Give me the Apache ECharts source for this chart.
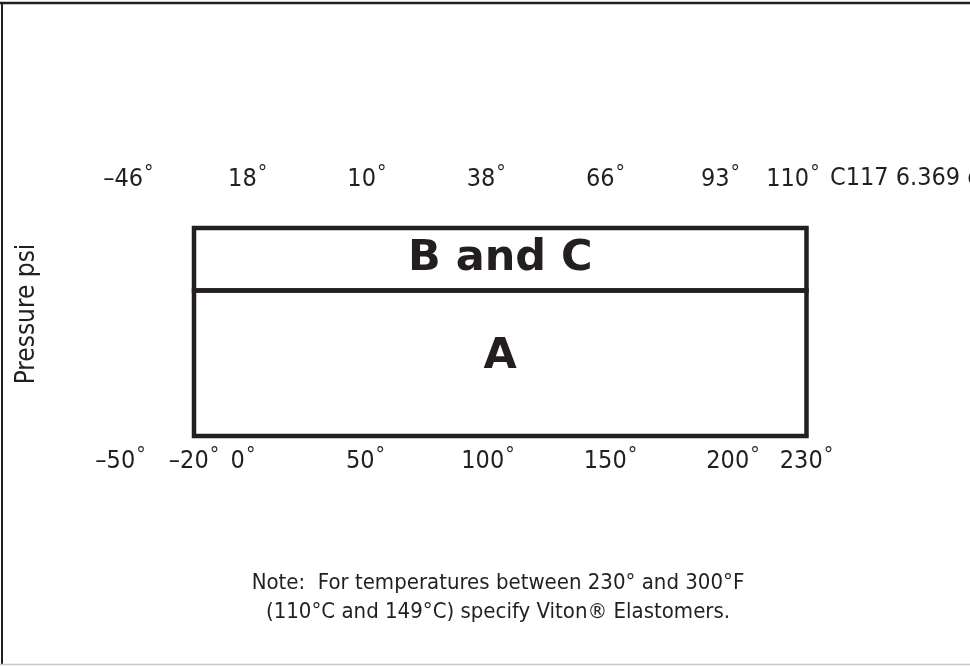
<!DOCTYPE html>
<html>
<head>
<meta charset="utf-8">
<script src="https://cdn.jsdelivr.net/npm/echarts@6/dist/echarts.min.js"></script>
<style>html,body{margin:0;padding:0;background:#fff;}#chart{width:970px;height:667px;}</style>
</head>
<body>
<div id="chart"></div>
<script>
// Fahrenheit tick values (bottom axis)
const fahrenheitTicks = [-50, -20, 0, 50, 100, 150, 200, 230];
// Celsius tick values and their printed labels (top axis)
const celsiusTicks = [-46, -18, 10, 38, 66, 93, 110];
const celsiusLabels = ['–46', '18', '10', '38', '66', '93', '110'];
// Service zones: temperature range (°F) and relative pressure band
const zoneNames = ['A', 'B and C'];
const zoneTempMin = [-20, -20];
const zoneTempMax = [230, 230];
const zonePressLow = [0, 70];
const zonePressHigh = [70, 100];

const INK = '#231f20';
const FONT = '"Liberation Sans Narrow", "DejaVu Sans Condensed", sans-serif';

const chart = echarts.init(document.getElementById('chart'), null, {renderer: 'canvas'});

const zoneData = zoneNames.map((n, i) => [zoneTempMin[i], zoneTempMax[i], zonePressLow[i], zonePressHigh[i], n]);

const richDeg = {
  n: {fontFamily: FONT, fontSize: 25, color: INK, lineHeight: 28, verticalAlign: 'bottom'},
  d: {fontFamily: FONT, fontSize: 21, color: INK, lineHeight: 28, verticalAlign: 'top', padding: [0, 0, 0, 1]}
};
const fmtF = v => '{n|' + (v < 0 ? '–' + (-v) : String(v)) + '}{d|°}';
const fmtC = v => '{n|' + (celsiusLabels[celsiusTicks.indexOf(v)] || '') + '}{d|°}';

chart.setOption({
  animation: false,
  backgroundColor: '#fff',
  grid: {left: 120.5, right: 16.5, top: 228, bottom: 231, containLabel: false},
  xAxis: [
    {
      type: 'value', position: 'bottom', min: -50, max: 290,
      axisLine: {show: false}, axisTick: {show: false}, splitLine: {show: false},
      axisLabel: {customValues: fahrenheitTicks, formatter: fmtF, rich: richDeg, margin: 10}
    },
    {
      type: 'value', position: 'top', min: -47.84, max: 147.7,
      axisLine: {show: false}, axisTick: {show: false}, splitLine: {show: false},
      axisLabel: {customValues: celsiusTicks, formatter: fmtC, rich: richDeg, margin: 36}
    }
  ],
  yAxis: {
    type: 'value', min: 0, max: 100,
    axisLine: {show: false}, axisTick: {show: false}, splitLine: {show: false},
    axisLabel: {show: false},
    name: 'Pressure psi', nameLocation: 'middle', nameRotate: 90, nameGap: 80,
    nameTextStyle: {fontFamily: FONT, fontSize: 26, color: INK, padding: [0, 0, 0, 36]}
  },
  series: [{
    type: 'custom',
    xAxisIndex: 0,
    data: zoneData,
    renderItem: function (params, api) {
      const p1 = api.coord([api.value(0), api.value(3)]);
      const p2 = api.coord([api.value(1), api.value(2)]);
      const name = zoneNames[params.dataIndex];
      return {
        type: 'group',
        children: [
          {
            type: 'rect',
            shape: {x: p1[0], y: p1[1], width: p2[0] - p1[0], height: p2[1] - p1[1]},
            style: {fill: 'none', stroke: INK, lineWidth: 4.5}
          },
          {
            type: 'text',
            x: (p1[0] + p2[0]) / 2,
            y: (p1[1] + p2[1]) / 2 - (params.dataIndex === 0 ? 6 : 0),
            style: {
              text: name, align: 'center', verticalAlign: 'middle',
              font: 'bold 43px "DejaVu Sans", sans-serif', fill: INK
            }
          }
        ]
      };
    }
  }],
  graphic: [
    {type: 'line', shape: {x1: 0, y1: 3, x2: 970, y2: 3}, style: {stroke: '#231f20', lineWidth: 2.5}},
    {type: 'line', shape: {x1: 2, y1: 2, x2: 2, y2: 665}, style: {stroke: '#231f20', lineWidth: 2}},
    {type: 'line', shape: {x1: 0, y1: 664.5, x2: 970, y2: 664.5}, style: {stroke: '#c8c8c8', lineWidth: 1.5}},
    {type: 'text', left: 830, top: 166, style: {text: 'C117 6.369 c', font: '25px ' + FONT, fill: INK}},
    {type: 'text', x: 498, y: 583, style: {text: 'Note:  For temperatures between 230° and 300°F', font: '22px ' + FONT, fill: INK, align: 'center', verticalAlign: 'middle'}},
    {type: 'text', x: 498, y: 612, style: {text: '(110°C and 149°C) specify Viton® Elastomers.', font: '22px ' + FONT, fill: INK, align: 'center', verticalAlign: 'middle'}}
  ]
});
</script>
</body>
</html>
